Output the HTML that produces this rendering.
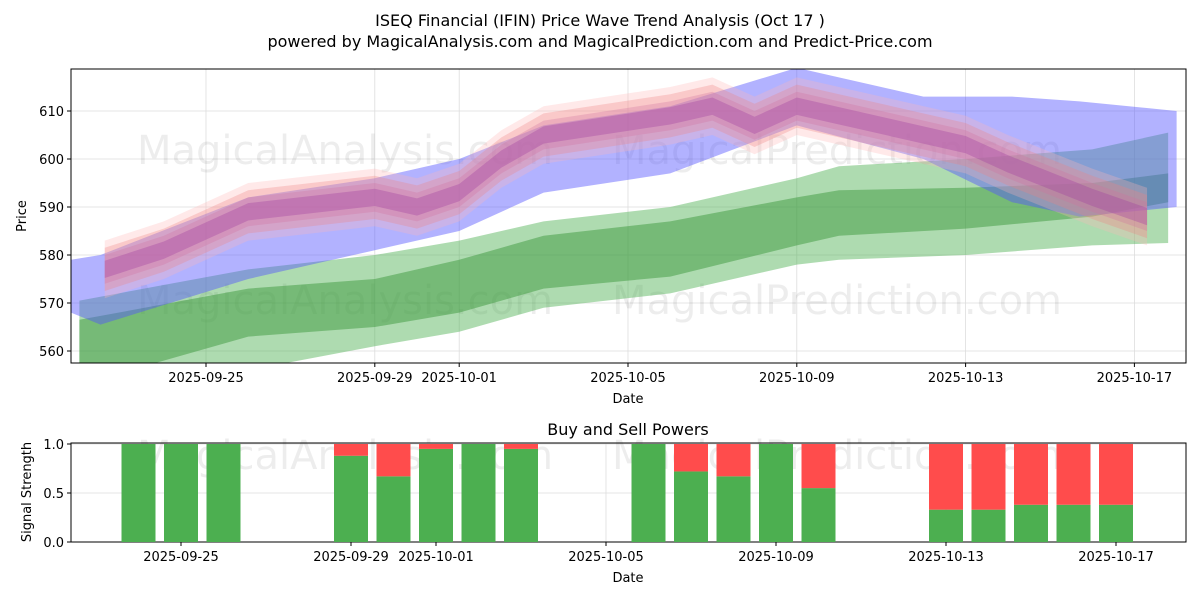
<!DOCTYPE html>
<html><head><meta charset="utf-8"><style>
body{margin:0;background:#fff;font-family:"Liberation Sans","DejaVu Sans",sans-serif}
svg text{font-family:"DejaVu Sans","Liberation Sans",sans-serif}
</style></head><body>
<svg id="c" width="1200" height="600" xmlns="http://www.w3.org/2000/svg">
<rect width="1200" height="600" fill="#fff"/>
<text x="600" y="26" text-anchor="middle" font-size="16">ISEQ Financial (IFIN) Price Wave Trend Analysis (Oct 17 )</text>
<text x="600" y="47" text-anchor="middle" font-size="16">powered by MagicalAnalysis.com and MagicalPrediction.com and Predict-Price.com</text>
<g id="top"></g><g id="bot"></g>
</svg>
<script>
// ---- data ----
const tickDates=["2025-09-25","2025-09-29","2025-10-01","2025-10-05","2025-10-09","2025-10-13","2025-10-17"];
const priceTicks=[560,570,580,590,600,610];
const blueDays=[-3.2,-2.5,1,4,6,8,11,14,17,19.1,20.7,23];
const blueUpper=[579,580,592,596,600,607,611,619,613,613,612,610];
const blueLower=[568,565.5,575,581,585,593,597,607,600,591,588,590];
const gDays=[-3,1,4,6,8,11,14,15,18,21,22.8];
const gOuterUp=[570.5,577,580,583,587,590,596,598.5,600,602,605.5];
const gOuterLo=[552,556,561,564,569,572,578,579,580,582,582.5];
const gInnerUp=[566.5,573,575,579,584,587,592,593.5,594,595,597];
const gInnerLo=[553,563,565,568,573,575.5,582,584,585.5,588,591];
const pDays=[-2.4,-1,1,4,5,6,7,8,11,12,13,14,15,18,19,21,22.3];
const pMid=[577,581,589,592,590,593,600,605,609,611,607,611,609,603,599,592,588];
const pOffsets=[6,4.5,3,1.8];
const pColors=["#ffb6b6","#f08080","#d070a0","#a040a0"];
const pOps=[0.3,0.3,0.3,0.35];
const barDays=[-1,0,1,4,5,6,7,8,11,12,13,14,15,18,19,20,21,22];
const buyVals=[1,1,1,0.88,0.67,0.95,1,0.95,1,0.72,0.67,1,0.55,0.33,0.33,0.38,0.38,0.38];
const sigTicks=[0,0.5,1];
// ---- axes ----
const L=71,R=1186,T1=69,B1=363,T2=443,B2=542;
const x=d=>206+d*42.2;
const xb=d=>181+d*42.5;
const y=v=>159-(v-600)*4.8;
const y2=v=>B2-v*98;
const NS="http://www.w3.org/2000/svg";
function el(p,t,a){const e=document.createElementNS(NS,t);for(const k in a)e.setAttribute(k,a[k]);p.appendChild(e);return e;}
const gTop=document.getElementById('top'),gBot=document.getElementById('bot');
const cp=el(gTop,'clipPath',{id:'cp1'});el(cp,'rect',{x:L,y:T1,width:R-L,height:B1-T1});
const cp2=el(gBot,'clipPath',{id:'cp2'});el(cp2,'rect',{x:L,y:T2,width:R-L,height:B2-T2});
const tickX=[0,4,6,10,14,18,22];
tickX.forEach(d=>{el(gTop,'line',{x1:x(d),x2:x(d),y1:T1,y2:B1,stroke:'#ddd','stroke-width':0.8});el(gBot,'line',{x1:xb(d),x2:xb(d),y1:T2,y2:B2,stroke:'#ddd','stroke-width':0.8});});
priceTicks.forEach(v=>el(gTop,'line',{x1:L,x2:R,y1:y(v),y2:y(v),stroke:'#ddd','stroke-width':0.8}));
sigTicks.forEach(v=>el(gBot,'line',{x1:L,x2:R,y1:y2(v),y2:y2(v),stroke:'#ddd','stroke-width':0.8}));
[[345,150,'MagicalAnalysis.com'],[837,150,'MagicalPrediction.com'],[345,300,'MagicalAnalysis.com'],[837,300,'MagicalPrediction.com'],[345,455,'MagicalAnalysis.com'],[837,455,'MagicalPrediction.com']].forEach(w=>{const t=el(w[1]>400?gBot:gTop,'text',{x:w[0],y:w[1]+14,'text-anchor':'middle','font-size':40,fill:'#000','fill-opacity':0.07});t.textContent=w[2];

});
const g1=el(gTop,'g',{'clip-path':'url(#cp1)'});
function band(days,up,lo,fill,op,name){let pts=days.map((d,i)=>x(d)+','+y(up[i]));for(let i=days.length-1;i>=0;i--)pts.push(x(days[i])+','+y(lo[i]));const p=el(g1,'polygon',{points:pts.join(' '),fill:fill,'fill-opacity':op});

}
band(gDays,gOuterUp,gOuterLo,'#4caf50',0.45,'green-outer-band');
band(gDays,gInnerUp,gInnerLo,'#3e9a3e',0.5,'green-inner-band');
band(blueDays,blueUpper,blueLower,'#5555ff',0.45,'blue-band');
pOffsets.forEach((o,k)=>band(pDays,pMid.map(v=>v+o),pMid.map(v=>v-o),pColors[k],pOps[k],'price-wave-band'));
el(gTop,'rect',{x:L,y:T1,width:R-L,height:B1-T1,fill:'none',stroke:'#000','stroke-width':1});
el(gBot,'rect',{x:L,y:T2,width:R-L,height:B2-T2,fill:'none',stroke:'#000','stroke-width':1});
tickX.forEach((d,i)=>{[[B1,gTop,x(d)],[B2,gBot,xb(d)]].forEach(([b,g,xx])=>{el(g,'line',{x1:xx,x2:xx,y1:b,y2:b+4,stroke:'#000'});const t=el(g,'text',{x:xx,y:b+19,'text-anchor':'middle','font-size':13});t.textContent=tickDates[i];

});});
priceTicks.forEach(v=>{el(gTop,'line',{x1:L-4,x2:L,y1:y(v),y2:y(v),stroke:'#000'});const t=el(gTop,'text',{x:L-7,y:y(v)+5,'text-anchor':'end','font-size':13});t.textContent=v;

});
sigTicks.forEach(v=>{el(gBot,'line',{x1:L-4,x2:L,y1:y2(v),y2:y2(v),stroke:'#000'});const t=el(gBot,'text',{x:L-7,y:y2(v)+5,'text-anchor':'end','font-size':13});t.textContent=v.toFixed(1);

});
const g2=el(gBot,'g',{'clip-path':'url(#cp2)'});
barDays.forEach((d,i)=>{const w=34,b=buyVals[i];
const gr=el(g2,'rect',{x:xb(d)-w/2,y:y2(b),width:w,height:y2(0)-y2(b),fill:'#4caf50'});


const rd=el(g2,'rect',{x:xb(d)-w/2,y:y2(1),width:w,height:y2(b)-y2(1),fill:'#ff4c4c'});

});
function lab(g,txt,a,name){const t=el(g,'text',a);t.textContent=txt;

}
lab(gTop,'Date',{x:628,y:403,'text-anchor':'middle','font-size':13},'x-axis-title');
lab(gTop,'Price',{x:26,y:216,'text-anchor':'middle','font-size':13,transform:'rotate(-90 26 216)'},'y-axis-title');
lab(gBot,'Buy and Sell Powers',{x:628,y:435,'text-anchor':'middle','font-size':16},'subplot-title');
lab(gBot,'Date',{x:628,y:582,'text-anchor':'middle','font-size':13},'x-axis-title-2');
lab(gBot,'Signal Strength',{x:31,y:492,'text-anchor':'middle','font-size':13,transform:'rotate(-90 31 492)'},'y-axis-title-2');
</script>
</body></html>
